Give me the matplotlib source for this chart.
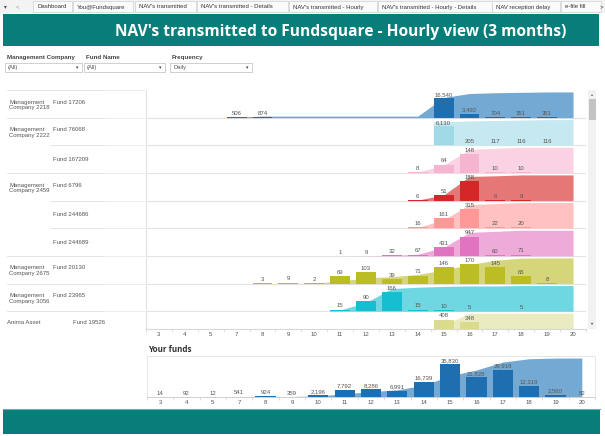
import matplotlib
matplotlib.use("Agg")
import matplotlib.pyplot as plt
from matplotlib.patches import Rectangle
from matplotlib.lines import Line2D
import numpy as np

W, H = 605, 436
plt.rcParams['font.family'] = ['Liberation Sans', 'DejaVu Sans']

# ---------------- data ----------------
hours = [3, 4, 5, 7, 8, 9, 10, 11, 12, 13, 14, 15, 16, 17, 18, 19, 20]

companies = ["Management\nCompany 2218", "Management\nCompany 2222", "",
             "Management\nCompany 2459", "", "",
             "Management\nCompany 2675", "Management\nCompany 3056", "Anima Asset"]
funds = ["Fund 17206", "Fund 76068", "Fund 167209", "Fund 6796", "Fund 244686",
         "Fund 244689", "Fund 20130", "Fund 23965", "Fund 19526"]

#            3  4  5  7    8    9  10  11   12   13   14   15     16    17   18   19  20
fund_17206  = [0, 0, 0, 506, 874, 0, 0, 0, 0, 0, 0, 16540, 3492, 704, 351, 351, 0]
fund_76068  = [0, 0, 0, 0, 0, 0, 0, 0, 0, 0, 0, 6130, 205, 117, 116, 116, 0]
fund_167209 = [0, 0, 0, 0, 0, 0, 0, 0, 0, 0, 8, 64, 148, 10, 10, 0, 0]
fund_6796   = [0, 0, 0, 0, 0, 0, 0, 0, 0, 0, 6, 51, 188, 6, 9, 0, 0]
fund_244686 = [0, 0, 0, 0, 0, 0, 0, 0, 0, 0, 16, 161, 315, 22, 20, 0, 0]
fund_244689 = [0, 0, 0, 0, 0, 0, 0, 1, 9, 32, 67, 431, 947, 60, 71, 0, 0]
fund_20130  = [0, 0, 0, 0, 3, 9, 2, 69, 103, 39, 71, 146, 170, 145, 65, 8, 0]
fund_23965  = [0, 0, 0, 0, 0, 0, 0, 15, 90, 166, 15, 10, 5, 0, 5, 0, 0]
fund_19526  = [0, 0, 0, 0, 0, 0, 0, 0, 0, 0, 0, 408, 348, 0, 0, 0, 0]
rows = [fund_17206, fund_76068, fund_167209, fund_6796, fund_244686,
        fund_244689, fund_20130, fund_23965, fund_19526]

your_funds = [14, 92, 12, 541, 924, 359, 2196, 7792, 8286, 6991, 16739,
              35830, 21828, 29918, 12319, 2560, 82]

tabs = ["Dashboard", "You@Fundsquare", "NAV's transmitted", "NAV's transmitted - Details",
        "NAV's transmitted - Hourly", "NAV's transmitted - Hourly - Details",
        "NAV reception delay", "e-file fill"]
filters = [("Management Company", "(All)"), ("Fund Name", "(All)"), ("Frequency", "Daily")]

# ---------------- styles ----------------
bar_colors = ["#1f6fb0", "#9fdae6", "#f5b4d0", "#d62728", "#ff9896",
              "#e074c0", "#bcbd22", "#17becf", "#dbdb8d"]
area_colors = ["#74a9d3", "#c6e8f0", "#fad2e3", "#e57777", "#ffc2c1",
               "#eeaad9", "#d5d67a", "#6fd7e2", "#ebebc2"]
TEAL = "#077e7a"
TXT = "#555555"
FS = 4.3


def fx(x):
    return x / W


def fy(y):
    return 1 - y / H


fig = plt.figure(figsize=(W / 100, H / 100), dpi=100)
fig.patch.set_facecolor("white")


def rect(x0, y0, x1, y1, **kw):
    fig.patches.append(Rectangle((fx(x0), fy(y1)), fx(x1) - fx(x0), fy(y0) - fy(y1),
                                 transform=fig.transFigure, **kw))


def hline(x0, x1, y, color="#e4e4e4", lw=0.7):
    fig.lines.append(Line2D([fx(x0), fx(x1)], [fy(y), fy(y)], transform=fig.transFigure,
                            color=color, lw=lw))


# ---------------- tab bar ----------------
rect(0, 0, 605, 13, facecolor="#f3f3f3", edgecolor="none")
fig.text(fx(5), fy(6.5), "▾", fontsize=4, color="#444", ha="center", va="center",
         family=["DejaVu Sans"])
fig.text(fx(18), fy(6.5), "<", fontsize=4.5, color="#999", ha="center", va="center")
tab_x = [33, 73, 135, 197, 289, 378, 492, 561]
tab_w = [39, 60, 61, 91, 88, 114, 68, 40]
for t, x0, w in zip(tabs, tab_x, tab_w):
    rect(x0, 1, x0 + w, 12.5, facecolor="#fbfbfb", edgecolor="#d0d0d0", lw=0.5)
    fig.text(fx(x0 + 4), fy(7), t, fontsize=FS, color="#333", ha="left", va="center")
fig.text(fx(601), fy(6.5), ">", fontsize=4.5, color="#333", ha="center", va="center")

# ---------------- banner ----------------
rect(3, 14, 599, 46, facecolor=TEAL, edgecolor="none")
fig.text(fx(341), fy(31.5), "NAV's transmitted to Fundsquare - Hourly view (3 months)",
         fontsize=11.2, color="white", weight="bold", ha="center", va="center",
         family=["Open Sans", "DejaVu Sans"])

# ---------------- filters ----------------
fpos = [(5, 82), (84, 165), (170, 252)]
for (lab, val), (x0, x1) in zip(filters, fpos):
    fig.text(fx(x0 + 2), fy(57), lab, fontsize=4.5, color="#444", weight="bold",
             ha="left", va="center")
    rect(x0, 63, x1, 72, facecolor="white", edgecolor="#bdbdbd", lw=0.5)
    fig.text(fx(x0 + 3), fy(67.5), val, fontsize=4.2, color="#555", ha="left", va="center")
    fig.text(fx(x1 - 5), fy(67.5), "▾", fontsize=3.5, color="#444", ha="center", va="center",
             family=["DejaVu Sans"])

# ---------------- main chart ----------------
TOP, BOT = 90, 329
ROWH = 27.66
nrows_visible = (BOT - TOP) / ROWH
ax = fig.add_axes([fx(146), fy(BOT), fx(586) - fx(146), fy(TOP) - fy(BOT)])
ax.set_xlim(-0.5, len(hours) - 0.5)
ax.set_ylim(-nrows_visible, 0)
ax.set_facecolor("none")
for s in ["top", "right"]:
    ax.spines[s].set_visible(False)
ax.spines["left"].set_color("#e0e0e0")
ax.spines["bottom"].set_color("#d8d8d8")
ax.spines["left"].set_linewidth(0.8)
ax.spines["bottom"].set_linewidth(0.8)
ax.set_yticks([])
x = np.arange(len(hours))
ax.set_xticks(x)
ax.set_xticklabels([str(h) for h in hours], fontsize=FS, color=TXT)
ax.tick_params(axis="x", length=0, pad=2.5)
ax.set_xticks(np.arange(len(hours) + 1) - 0.5, minor=True)
ax.tick_params(axis="x", which="minor", length=2, color="#d0d0d0", width=0.5)

for r, vals in enumerate(rows):
    vals = np.array(vals, dtype=float)
    base = -(r + 1)
    if r < len(rows) - 1:
        ax.axhline(base, color="#e4e4e4", lw=0.8, zorder=1)
    vmax = vals.max()
    total = vals.sum()
    cum = np.cumsum(vals) / total
    first = int(np.nonzero(vals)[0][0])
    xs = np.concatenate([[first - 0.4], x[first:]])
    ys = np.concatenate([[cum[first]], cum[first:]]) * 0.93
    ax.fill_between(xs, base, base + ys, color=area_colors[r], lw=0, zorder=2)
    for i, v in enumerate(vals):
        if v <= 0:
            continue
        h = v / vmax * 0.70
        ax.bar(i, h, bottom=base, width=0.77, color=bar_colors[r], lw=0, zorder=3)
        ax.annotate(f"{int(v):,}", (i, base + h), xytext=(0, 0.8), textcoords="offset points",
                    ha="center", va="bottom", fontsize=FS, color=TXT, zorder=4,
                    annotation_clip=True)

# row labels
for r, (c, f) in enumerate(zip(companies, funds)):
    yt = TOP + r * ROWH
    yc = yt + ROWH / 2
    if r == len(rows) - 1:
        fig.text(fx(7), fy(322), c, fontsize=FS, color=TXT, ha="left", va="center")
        fig.text(fx(73), fy(322), f, fontsize=FS, color=TXT, ha="left", va="center")
        continue
    if c:
        fig.text(fx(9), fy(yc + 1), c, fontsize=FS, color=TXT, ha="left", va="center",
                 linespacing=1.15)
        fig.text(fx(53), fy(yc - 1.8), f, fontsize=FS, color=TXT, ha="left", va="center")
    else:
        fig.text(fx(53), fy(yc), f, fontsize=FS, color=TXT, ha="left", va="center")
# separators in the label area
for r in range(len(rows)):
    yt = TOP + r * ROWH
    x0 = 7 if companies[r] else 50
    hline(x0, 105, yt)
    hline(105, 146, yt, color="#eeeeee")

# scrollbar
rect(588, 90, 596, 329, facecolor="#f1f1f1", edgecolor="none")
rect(588.5, 99, 595.5, 120, facecolor="#c3c3c3", edgecolor="none")
fig.text(fx(592), fy(94.5), "▴", fontsize=3, color="#666", ha="center", va="center",
         family=["DejaVu Sans"])
fig.text(fx(592), fy(323.5), "▾", fontsize=3, color="#333", ha="center", va="center",
         family=["DejaVu Sans"])

# ---------------- your funds ----------------
fig.text(fx(148), fy(350), "Your funds", fontsize=5.8, color="#333", weight="bold",
         ha="left", va="center", family=["Open Sans", "DejaVu Sans"])
ax2 = fig.add_axes([fx(147), fy(397), fx(595) - fx(147), fy(356) - fy(397)])
ax2.set_xlim(-0.5, len(hours) - 0.5)
ax2.set_ylim(0, 1)
for s in ["top", "right", "left"]:
    ax2.spines[s].set_color("#e6e6e6")
    ax2.spines[s].set_linewidth(0.7)
ax2.spines["bottom"].set_color("#cfcfcf")
ax2.spines["bottom"].set_linewidth(0.7)
ax2.set_yticks([])
ax2.set_xticks(x)
ax2.set_xticklabels([str(h) for h in hours], fontsize=FS, color=TXT)
ax2.tick_params(axis="x", length=0, pad=2)
ax2.set_xticks(np.arange(len(hours) + 1) - 0.5, minor=True)
ax2.tick_params(axis="x", which="minor", length=2, color="#d0d0d0", width=0.5)
yv = np.array(your_funds, dtype=float)
ycum = np.cumsum(yv) / yv.sum()
ax2.fill_between(np.concatenate([[-0.4], x]), 0, np.concatenate([[ycum[0]], ycum]) * 0.95,
                 color="#74a9d3", lw=0, zorder=2)
for i, v in enumerate(yv):
    h = v / yv.max() * 0.80
    ax2.bar(i, h, width=0.77, color="#1f6fb0", lw=0, zorder=3)
    ax2.annotate(f"{int(v):,}", (i, h), xytext=(0, 0.8), textcoords="offset points",
                 ha="center", va="bottom", fontsize=FS, color=TXT, zorder=4)

# ---------------- footer ----------------
rect(3, 409, 600, 434, facecolor=TEAL, edgecolor="none")
hline(3, 600, 409.3, color="#69b3ae", lw=0.8)

fig.savefig("out.png", dpi=100)
